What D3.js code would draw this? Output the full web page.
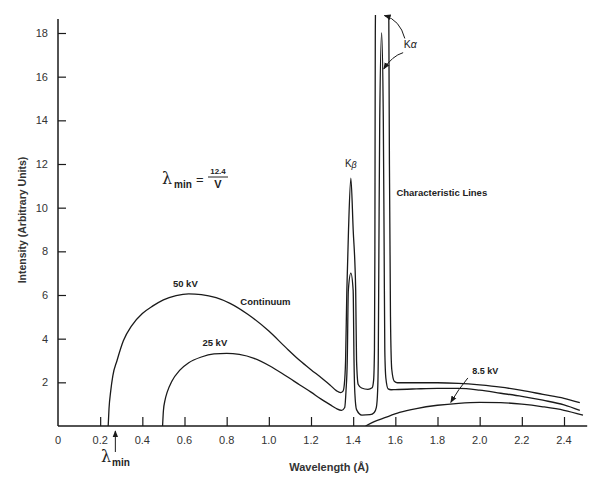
<!DOCTYPE html>
<html>
<head>
<meta charset="utf-8">
<script src="https://cdn.jsdelivr.net/npm/d3@7"></script>
<style>
  body { margin: 0; background: #fff; }
  svg { font-family: "Liberation Sans", Arial, sans-serif; }
</style>
</head>
<body>
<script>
// wavelength (A) / intensity pairs
const kv50 = [
  [0.238,0],[0.242,0.8],[0.25,1.6],[0.26,2.3],[0.28,3.0],[0.31,3.9],[0.35,4.6],[0.4,5.15],
  [0.45,5.5],[0.5,5.78],[0.56,5.97],[0.62,6.05],[0.68,6.02],[0.75,5.88],[0.816,5.62],[0.9,5.12],
  [1.0,4.35],[1.08,3.6],[1.147,3.0],[1.2,2.58],[1.25,2.2],[1.29,1.88],[1.32,1.62],[1.34,1.53],
  [1.352,1.6],[1.358,1.9],[1.364,3.0],[1.370,6.2],[1.378,9.0],[1.389,11.35],[1.40,9.0],
  [1.412,6.2],[1.416,3.0],[1.424,1.9],[1.44,1.74],[1.47,1.68],[1.49,1.75],[1.497,2.1],
  [1.501,3.5],[1.503,8],[1.505,18],[1.54,40],[1.566,25],[1.572,12],[1.577,5],[1.583,2.6],
  [1.595,2.05],[1.61,1.98],[1.7,1.98],[1.8,1.98],[1.9,1.95],[2.0,1.88],[2.1,1.78],[2.2,1.63],
  [2.3,1.45],[2.4,1.27],[2.475,1.07]
];
const kv25 = [
  [0.496,0],[0.5,0.7],[0.508,1.2],[0.518,1.55],[0.54,2.05],[0.578,2.56],[0.62,2.9],[0.68,3.16],
  [0.74,3.3],[0.8,3.33],[0.86,3.28],[0.93,3.1],[1.005,2.75],[1.08,2.3],[1.147,1.88],[1.2,1.55],
  [1.25,1.22],[1.29,0.98],[1.32,0.8],[1.345,0.72],[1.36,0.85],[1.366,1.6],[1.372,3.0],
  [1.377,6.2],[1.389,7.0],[1.40,6.2],[1.404,3.0],[1.408,1.5],[1.416,0.75],[1.441,0.5],
  [1.48,0.52],[1.5,0.62],[1.51,0.85],[1.516,1.6],[1.519,3],[1.522,8],[1.526,14],[1.535,18],
  [1.543,14],[1.547,8],[1.55,3.5],[1.555,2.2],[1.566,1.7],[1.58,1.66],[1.6,1.67],[1.7,1.7],
  [1.8,1.72],[1.9,1.72],[2.0,1.64],[2.1,1.5],[2.2,1.36],[2.3,1.18],[2.4,0.97],[2.475,0.72]
];
const kv85 = [
  [1.459,0],[1.5,0.2],[1.55,0.38],[1.62,0.62],[1.7,0.8],[1.8,0.95],[1.9,1.04],[2.0,1.08],
  [2.1,1.07],[2.2,1.0],[2.3,0.88],[2.4,0.72],[2.49,0.5]
];
const xTicks = [0.2,0.4,0.6,0.8,1.0,1.2,1.4,1.6,1.8,2.0,2.2,2.4];
const xTickLabels = ["0.2","0.4","0.6","0.8","1.0","1.2","1.4","1.6","1.8","2.0","2.2","2.4"];
const yTicks = [2,4,6,8,10,12,14,16,18];

const width = 600, height = 480;
const x = d3.scaleLinear().domain([0, 2.4]).range([58, 564]);
const y = d3.scaleLinear().domain([0, 18]).range([426, 33]);
const ink = '#1a1a1a';

const svg = d3.select('body').append('svg')
  .attr('width', width).attr('height', height);

svg.append('defs').append('clipPath').attr('id', 'plot')
  .append('rect').attr('x', 58).attr('y', 15).attr('width', 540).attr('height', 411);
const marker = svg.select('defs').append('marker')
  .attr('id', 'head').attr('viewBox', '0 0 10 10').attr('refX', 9).attr('refY', 5)
  .attr('markerWidth', 7).attr('markerHeight', 7).attr('orient', 'auto-start-reverse');
marker.append('path').attr('d', 'M0,1 L10,5 L0,9 Z').attr('fill', ink);

// axes
const xAxis = d3.axisBottom(x).tickValues(xTicks).tickSize(-9).tickFormat('');
svg.append('g').attr('transform', 'translate(0,426)').call(xAxis)
  .call(g => g.select('.domain').attr('d', `M58,0H${x(2.51)}`).attr('stroke', ink).attr('stroke-width', 1.5))
  .call(g => g.selectAll('.tick line').attr('stroke', ink).attr('stroke-width', 1.2));
const yAxis = d3.axisLeft(y).tickValues(yTicks).tickSize(-8).tickFormat('');
svg.append('g').attr('transform', 'translate(58,0)').call(yAxis)
  .call(g => g.select('.domain').attr('d', `M0,426V${y(18.64)}`).attr('stroke', ink).attr('stroke-width', 1.5))
  .call(g => g.selectAll('.tick line').attr('stroke', ink).attr('stroke-width', 1.2));

// tick labels
svg.selectAll('.xl').data([0].concat(xTicks)).enter().append('text')
  .attr('x', d => x(d)).attr('y', 444).attr('text-anchor', 'middle')
  .attr('font-size', 11).attr('fill', '#333')
  .text((d, i) => i === 0 ? '0' : xTickLabels[i - 1]);
svg.selectAll('.yl').data(yTicks).enter().append('text')
  .attr('x', 48).attr('y', d => y(d) + 4).attr('text-anchor', 'end')
  .attr('font-size', 11).attr('fill', '#333').text(d => d);

svg.append('text').attr('x', 329).attr('y', 471).attr('text-anchor', 'middle')
  .attr('font-size', 11).attr('font-weight', 'bold').attr('fill', '#333').text('Wavelength (Å)');
svg.append('text').attr('transform', 'translate(26,220) rotate(-90)').attr('text-anchor', 'middle')
  .attr('font-size', 10.5).attr('font-weight', 'bold').attr('fill', '#333').text('Intensity (Arbitrary Units)');

// curves
const line = d3.line().x(d => x(d[0])).y(d => y(d[1])).curve(d3.curveMonotoneX);
svg.append('g').attr('clip-path', 'url(#plot)')
  .selectAll('path').data([kv50, kv25, kv85]).enter().append('path')
  .attr('d', line).attr('fill', 'none').attr('stroke', ink).attr('stroke-width', 1.3);

// annotations
const lab = (tx, ty, s, size) => svg.append('text').attr('x', x(tx)).attr('y', y(ty))
  .attr('font-size', size || 9.5).attr('font-weight', 'bold').attr('fill', '#222').text(s);
lab(0.545, 6.35, '50 kV');
lab(0.865, 5.55, 'Continuum');
lab(0.685, 3.65, '25 kV');
lab(1.605, 10.55, 'Characteristic Lines');
lab(1.965, 2.4, '8.5 kV', 9);

const kb = svg.append('text').attr('x', x(1.389)).attr('y', y(11.85)).attr('text-anchor', 'middle')
  .attr('font-size', 10).attr('fill', '#222');
kb.append('tspan').text('K');
kb.append('tspan').attr('font-style', 'italic').attr('font-size', 9).attr('dy', 1).text('β');
const ka = svg.append('text').attr('x', x(1.64)).attr('y', y(17.3))
  .attr('font-size', 10.5).attr('fill', '#222');
ka.append('tspan').text('K');
ka.append('tspan').attr('font-style', 'italic').text('α');

const arrow = (p0, c, p1) => svg.append('path')
  .attr('d', `M${x(p0[0])},${y(p0[1])}Q${x(c[0])},${y(c[1])} ${x(p1[0])},${y(p1[1])}`)
  .attr('fill', 'none').attr('stroke', ink).attr('stroke-width', 1).attr('marker-end', 'url(#head)');
arrow([1.645, 17.75], [1.622, 18.6], [1.548, 18.8]);
arrow([1.637, 17.1], [1.585, 16.95], [1.545, 16.35]);
arrow([1.944, 2.2], [1.9, 1.7], [1.863, 1.08]);

// lambda min formula
const f = svg.append('g').attr('fill', '#222');
f.append('text').attr('x', 162).attr('y', 184).attr('font-size', 16)
  .attr('font-family', 'DejaVu Serif, serif').text('λ');
f.append('text').attr('x', 174).attr('y', 188).attr('font-size', 10).attr('font-weight', 'bold').text('min');
f.append('text').attr('x', 196).attr('y', 184).attr('font-size', 13).text('=');
f.append('text').attr('x', 218).attr('y', 174).attr('text-anchor', 'middle').attr('font-size', 8).attr('font-weight', 'bold').text('12.4');
f.append('line').attr('x1', 208).attr('x2', 228).attr('y1', 177).attr('y2', 177).attr('stroke', '#222').attr('stroke-width', 1);
f.append('text').attr('x', 218).attr('y', 188).attr('text-anchor', 'middle').attr('font-size', 11).attr('font-weight', 'bold').text('V');

// lambda min marker under the axis
svg.append('path').attr('d', `M${x(0.272)},452V431`).attr('stroke', ink).attr('stroke-width', 1)
  .attr('marker-end', 'url(#head)');
svg.append('text').attr('x', 101).attr('y', 462).attr('font-size', 16)
  .attr('font-family', 'DejaVu Serif, serif').attr('fill', '#222').text('λ');
svg.append('text').attr('x', 112).attr('y', 466).attr('font-size', 10).attr('font-weight', 'bold')
  .attr('fill', '#222').text('min');
</script>
</body>
</html>
